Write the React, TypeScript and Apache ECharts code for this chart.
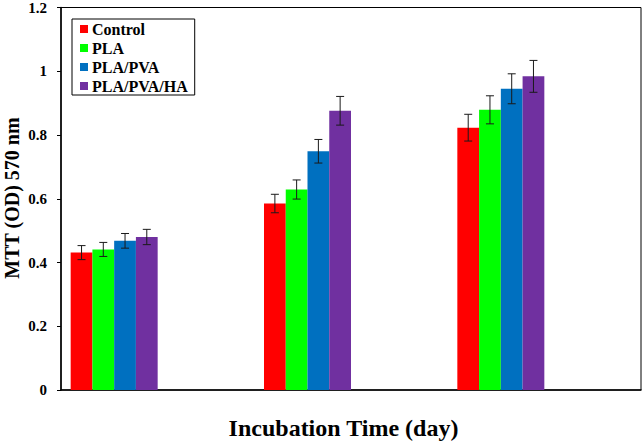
import React, { useEffect, useRef } from "react";
import * as echarts from "echarts";

const categories = ["Day 1", "Day 3", "Day 7"];
const seriesNames = ["Control", "PLA", "PLA/PVA", "PLA/PVA/HA"];
const seriesColors = ["#FF0000", "#00FF00", "#0070C0", "#7030A0"];
const controlValues = [0.431, 0.585, 0.823];
const plaValues = [0.441, 0.629, 0.879];
const plaPvaValues = [0.468, 0.749, 0.945];
const plaPvaHaValues = [0.48, 0.876, 0.984];
const controlErr = [0.022, 0.029, 0.042];
const plaErr = [0.022, 0.03, 0.044];
const plaPvaErr = [0.023, 0.037, 0.047];
const plaPvaHaErr = [0.024, 0.045, 0.05];
const yTicks = [0, 0.2, 0.4, 0.6, 0.8, 1, 1.2];

const FONT = "'Liberation Serif', 'Times New Roman', serif";
const CAT_GAP = 0.1;
const SLOTS = 8;

export default function App() {
  const ref = useRef<HTMLDivElement>(null);
  useEffect(() => {
    if (!ref.current) return;
    document.body.style.margin = "0";
    const chart = echarts.init(ref.current, undefined, { renderer: "svg" });
    const values = [controlValues, plaValues, plaPvaValues, plaPvaHaValues];
    const errs = [controlErr, plaErr, plaPvaErr, plaPvaHaErr];

    const barSeries: any[] = seriesNames.map((n, i) => ({
      name: n,
      type: "bar",
      data: values[i],
      itemStyle: { color: seriesColors[i] },
      barGap: "0%",
      barCategoryGap: CAT_GAP * 100 + "%",
      z: 2,
    }));
    // empty slots (as in the original spreadsheet) that push each cluster to the left
    for (let k = 0; k < SLOTS - seriesNames.length; k++) {
      barSeries.push({
        name: "_empty" + k,
        type: "bar",
        data: categories.map(() => null),
        barGap: "0%",
        barCategoryGap: CAT_GAP * 100 + "%",
      });
    }

    const errSeries = seriesNames.map((n, i) => ({
      type: "custom",
      name: n + " err",
      data: categories.map((c, j) => [j, values[i][j], errs[i][j]]),
      z: 5,
      renderItem: (params: any, api: any) => {
        const idx = api.value(0);
        const v = api.value(1);
        const e = api.value(2);
        const band = api.size([1, 0])[0];
        const bw = (band * (1 - CAT_GAP)) / SLOTS;
        const center = api.coord([idx, 0])[0];
        const x = center - (SLOTS * bw) / 2 + (i + 0.5) * bw;
        const yHi = api.coord([idx, v + e])[1];
        const yLo = api.coord([idx, v - e])[1];
        const cap = 4;
        const style = { stroke: "#1a1a1a", lineWidth: 1, fill: "none" };
        return {
          type: "group",
          children: [
            { type: "line", shape: { x1: x, y1: yHi, x2: x, y2: yLo }, style },
            { type: "line", shape: { x1: x - cap, y1: yHi, x2: x + cap, y2: yHi }, style },
            { type: "line", shape: { x1: x - cap, y1: yLo, x2: x + cap, y2: yLo }, style },
          ],
        };
      },
    }));

    chart.setOption({
      animation: false,
      backgroundColor: "#ffffff",
      grid: {
        left: 61,
        right: 3,
        top: 7,
        bottom: 51,
        show: true,
        borderColor: "#000",
        borderWidth: 1,
        containLabel: false,
      },
      legend: {
        data: seriesNames,
        orient: "vertical",
        left: 72,
        top: 19,
        icon: "rect",
        itemWidth: 8,
        itemHeight: 8,
        itemGap: 3,
        padding: [2, 7, 1, 8],
        borderColor: "#000",
        borderWidth: 1,
        textStyle: {
          fontFamily: FONT,
          fontWeight: "bold",
          fontSize: 16,
          color: "#000",
          padding: [0, 0, 0, -1],
        },
      },
      xAxis: {
        type: "category",
        data: categories,
        axisLine: { show: true, lineStyle: { color: "#000", width: 1.5 } },
        axisTick: { show: false },
        axisLabel: { show: false },
        splitLine: { show: false },
      },
      yAxis: {
        type: "value",
        min: yTicks[0],
        max: yTicks[yTicks.length - 1],
        interval: 0.2,
        axisLine: { show: true, lineStyle: { color: "#000", width: 1.5 } },
        axisTick: { show: true, inside: false, length: 4, lineStyle: { color: "#000" } },
        axisLabel: {
          margin: 14,
          fontFamily: FONT,
          fontWeight: "bold",
          fontSize: 15,
          color: "#000",
          formatter: (v: number) => String(Math.round(v * 10) / 10),
        },
        splitLine: { show: false },
      },
      graphic: [
        {
          type: "text",
          x: 12,
          y: 198,
          rotation: Math.PI / 2,
          style: {
            text: "MTT (OD) 570 nm",
            fontFamily: FONT,
            fontWeight: "bold",
            fontSize: 20,
            fill: "#000",
            textAlign: "center",
            textVerticalAlign: "middle",
          },
        },
        {
          type: "text",
          x: 343.5,
          y: 428,
          style: {
            text: "Incubation Time (day)",
            fontFamily: FONT,
            fontWeight: "bold",
            fontSize: 24,
            fill: "#000",
            textAlign: "center",
            textVerticalAlign: "middle",
          },
        },
      ],
      series: [...barSeries, ...errSeries],
    });
    return () => chart.dispose();
  }, []);
  return <div ref={ref} style={{ width: 644, height: 441 }} />;
}
